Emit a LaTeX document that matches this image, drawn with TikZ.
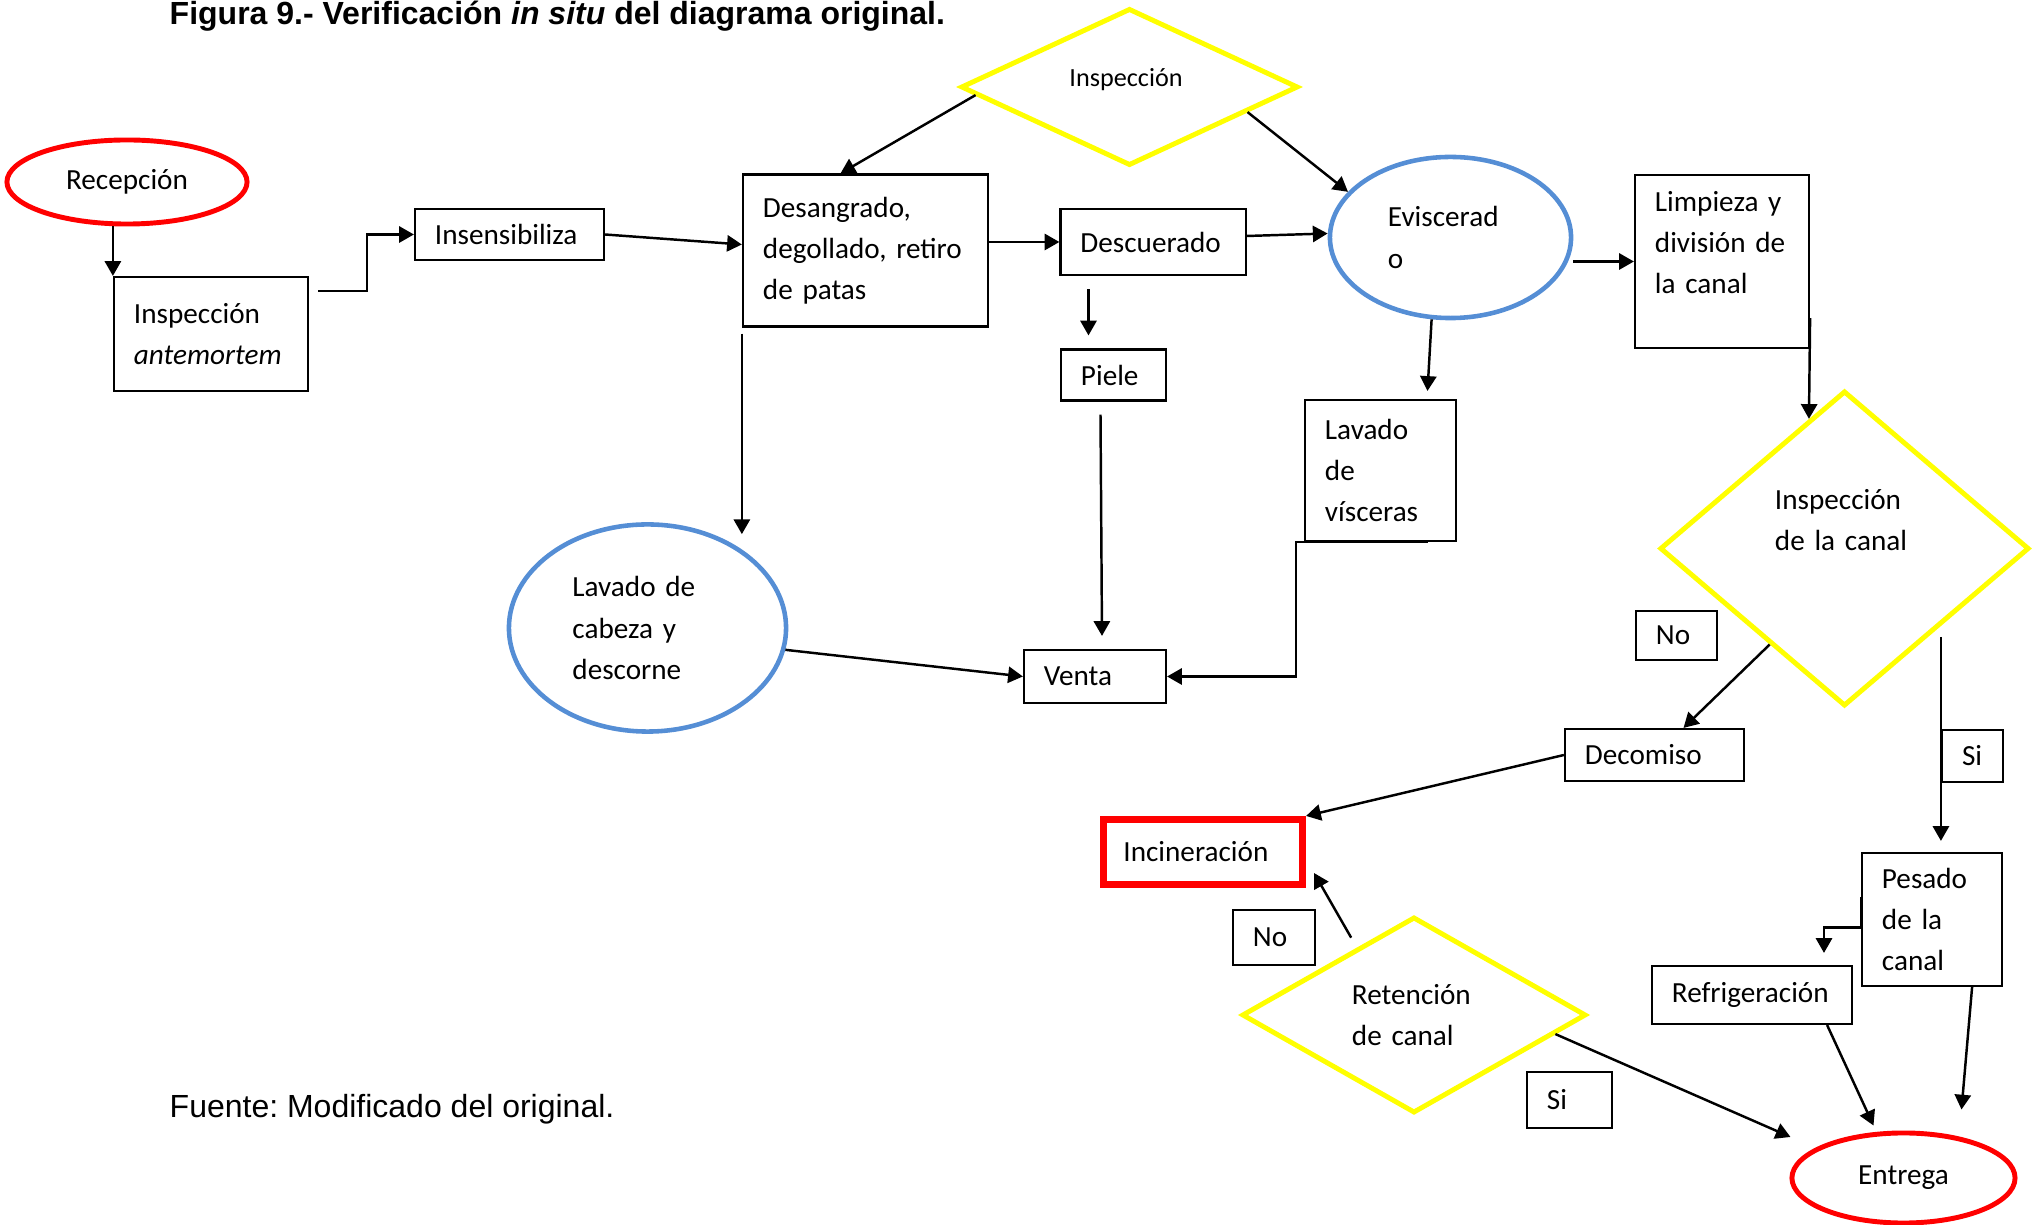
\documentclass[tikz,border=0pt]{standalone}
\usepackage{fontspec}
\setmainfont{Carlito}
\newfontfamily\arialfont{Liberation Sans}
\usetikzlibrary{shapes.geometric, arrows.meta, calc}
\definecolor{alertRed}{HTML}{FF0000}
\definecolor{softBlue}{HTML}{558ED5}
\definecolor{pureYellow}{HTML}{FFFF00}
\hyphenpenalty=10000
\frenchspacing
\tikzset{
    txt/.style={font=\fontsize{8.3}{11.7}\selectfont},
    caja/.style n args={3}{txt, draw, rectangle, line width=0.6pt, minimum width=#1, minimum height=#2, text width=#3, align=left, inner sep=0pt},
    etapa/.style n args={3}{txt, ellipse, draw=softBlue, line width=1.3pt, minimum width=#1, minimum height=#2, text width=#3, align=left, inner sep=0pt},
    extremo/.style 2 args={txt, ellipse, draw=alertRed, line width=1.4pt, minimum width=#1, minimum height=#2, inner sep=0pt},
    rombo/.style n args={3}{txt, diamond, draw=pureYellow, line width=1.4pt, minimum width=#1, minimum height=#2, text width=#3, align=left, inner sep=0pt},
    flecha/.style={-{Triangle[length=4.2pt, width=4.6pt]}, line width=0.7pt}
}

\begin{document}
\begin{tikzpicture}[x=0.01cm, y=-0.01cm]
        \useasboundingbox (0,0) rectangle (2038,1225);

        % Title and source
        \node[anchor=base west, inner sep=0pt, font=\arialfont\bfseries\fontsize{9.1}{11}\selectfont] (titulo) at (169,25) {Figura 9.- Verificación \textit{in situ} del diagrama original.};
        \node[anchor=base west, inner sep=0pt, font=\arialfont\fontsize{9.1}{11}\selectfont] (fuente) at (169,1118) {Fuente: Modificado del original.};

        % Start and end
        \node[extremo={2.40cm}{0.84cm}] (recepcion) at (127,182) {Recepción};
        \node[extremo={2.23cm}{0.90cm}] (entrega) at (1903.5,1178) {Entrega};

        % First row
        \node[caja={1.94cm}{1.14cm}{1.54cm}] (antemortem) at (211,334) {Inspección\\\textit{antemortem}};
        \node[caja={1.89cm}{0.51cm}{1.49cm}] (insensib) at (509.5,234.5) {Insensibiliza};
        \node[caja={2.45cm}{1.52cm}{2.05cm}] (desangrado) at (865.5,250.5) {Desangrado,\\degollado, retiro\\de patas};
        \node[caja={1.85cm}{0.66cm}{1.45cm}] (descuerado) at (1153,242) {Descuerado};
        \node[etapa={2.41cm}{1.61cm}{1.25cm}] (eviscerado) at (1450.5,237.5) {Eviscerad\\o};
        \node[caja={1.74cm}{1.73cm}{1.34cm}, text depth=1.2cm] (limpieza) at (1722,261.5) {Limpieza y\\división de\\la canal};
        \node[rombo={3.37cm}{1.56cm}{1.2cm}, font=\fontsize{7.45}{10}\selectfont, text depth=0.19cm] (inspeccion) at (1129.5,87) {Inspección};

        % Skin, head and viscera
        \node[caja={1.05cm}{0.51cm}{0.65cm}] (piele) at (1113.5,375) {Piele};
        \node[caja={1.42cm}{0.53cm}{1.02cm}] (venta) at (1095,676.5) {Venta};
        \node[etapa={2.77cm}{2.07cm}{1.5cm}] (lavcabeza) at (647.5,628) {Lavado de\\cabeza y\\descorne};
        \node[caja={1.51cm}{1.41cm}{1.11cm}] (lavvisceras) at (1380.5,470.5) {Lavado\\de\\vísceras};

        % Carcass branch
        \node[rombo={3.69cm}{3.15cm}{1.39cm}, text depth=0.98cm] (inspcanal) at (1844.5,548.5) {Inspección\\de la canal};
        \node[caja={0.81cm}{0.49cm}{0.41cm}] (noA) at (1676.5,635.5) {No};
        \node[caja={1.79cm}{0.52cm}{1.39cm}] (decomiso) at (1654.5,755) {Decomiso};
        \node[caja={0.61cm}{0.52cm}{0.21cm}] (siA) at (1972.5,756) {Si};
        \node[caja={1.99cm}{0.65cm}{1.59cm}, draw=alertRed, line width=2pt] (incineracion) at (1203,852) {Incineración};
        \node[caja={1.40cm}{1.33cm}{1.00cm}] (pesado) at (1932,919.5) {Pesado\\de la\\canal};
        \node[caja={2.00cm}{0.58cm}{1.60cm}] (refrigeracion) at (1752,995) {Refrigeración};
        \node[rombo={3.44cm}{1.96cm}{1.24cm}] (retencion) at (1414,1015) {Retención\\de canal};
        \node[caja={0.82cm}{0.55cm}{0.42cm}] (noB) at (1274,937.5) {No};
        \node[caja={0.85cm}{0.56cm}{0.45cm}] (siB) at (1569.5,1100) {Si};

        % Main line
        \coordinate (salidaA) at (318,291);
        \draw[flecha] (antemortem.north west |- recepcion.south) -- (antemortem.north west);
        \draw[flecha] (salidaA) -- ++(49,0) |- (insensib.west);
        \draw[flecha] (insensib.east) -- ($(desangrado.west)+(0,-6)$);
        \draw[flecha] (desangrado.east |- descuerado.west) -- (descuerado.west);
        \draw[flecha] ($(descuerado.east)+(0,-6)$) -- ($(eviscerado.west)+(0,-4)$);
        \draw[flecha] (eviscerado.east |- limpieza.west) -- (limpieza.west);
        \draw[flecha] ($(inspeccion.west)!0.1!(inspeccion.south)$) -- ($(desangrado.north)+(-25,0)$);
        \draw[flecha] ($(inspeccion.east)!0.31!(inspeccion.south)$) -- (eviscerado.156);

        % Skin, head and viscera to sale
        \draw[flecha] ($(piele.north)+(-25,-59)$) -- ($(piele.north)+(-25,-13)$);
        \draw[flecha] ($(piele.south)+(-13,13)$) -- ($(venta.north)+(7,-13)$);
        \draw[flecha] ($(desangrado.south west)+(0,6)$) -- ($(desangrado.south west |- lavcabeza.north)+(0,12)$);
        \draw[flecha] (lavcabeza.-9) -- (venta.west);
        \draw[flecha] (eviscerado.-103) -- ($(lavvisceras.north)+(47,-8)$);
        \draw[flecha] ($(lavvisceras.south)+(47,0)$) -- ($(lavvisceras.south west)+(-8,0)$) |- (venta.east);

        % Carcass
        \draw[flecha] ($(limpieza.south east)+(0,-31)$) -- ($(inspcanal.west)!0.81!(inspcanal.north)$);
        \draw[flecha] ($(inspcanal.west)!0.6!(inspcanal.south)$) -- ($(decomiso.north)+(29,0)$);
        \draw[flecha] ($(siA.north west)+(0,-92)$) -- ($(pesado.north -| siA.west)+(0,-11)$);
        \draw[flecha] (decomiso.west) -- (incineracion.north east);
        \draw[flecha] ($(retencion.west)!0.64!(retencion.north)+(0,-13)$) -- ($(incineracion.south east)+(8,-15)$);
        \draw[flecha] ($(retencion.east)!0.19!(retencion.south)$) -- ($(entrega.west)+(1,-41)$);
        \draw[flecha] ($(pesado.north west)+(0,45)$) -- ($(pesado.west)+(0,8)$) -| ($(refrigeracion.north)+(72,-12)$);
        \draw[flecha] ($(refrigeracion.south east)+(-26,0)$) -- ($(entrega.north)+(-30,-5)$);
        \draw[flecha] ($(pesado.south east)+(-31,0)$) -- ($(entrega.north)+(58,-21)$);
\end{tikzpicture}
\end{document}
